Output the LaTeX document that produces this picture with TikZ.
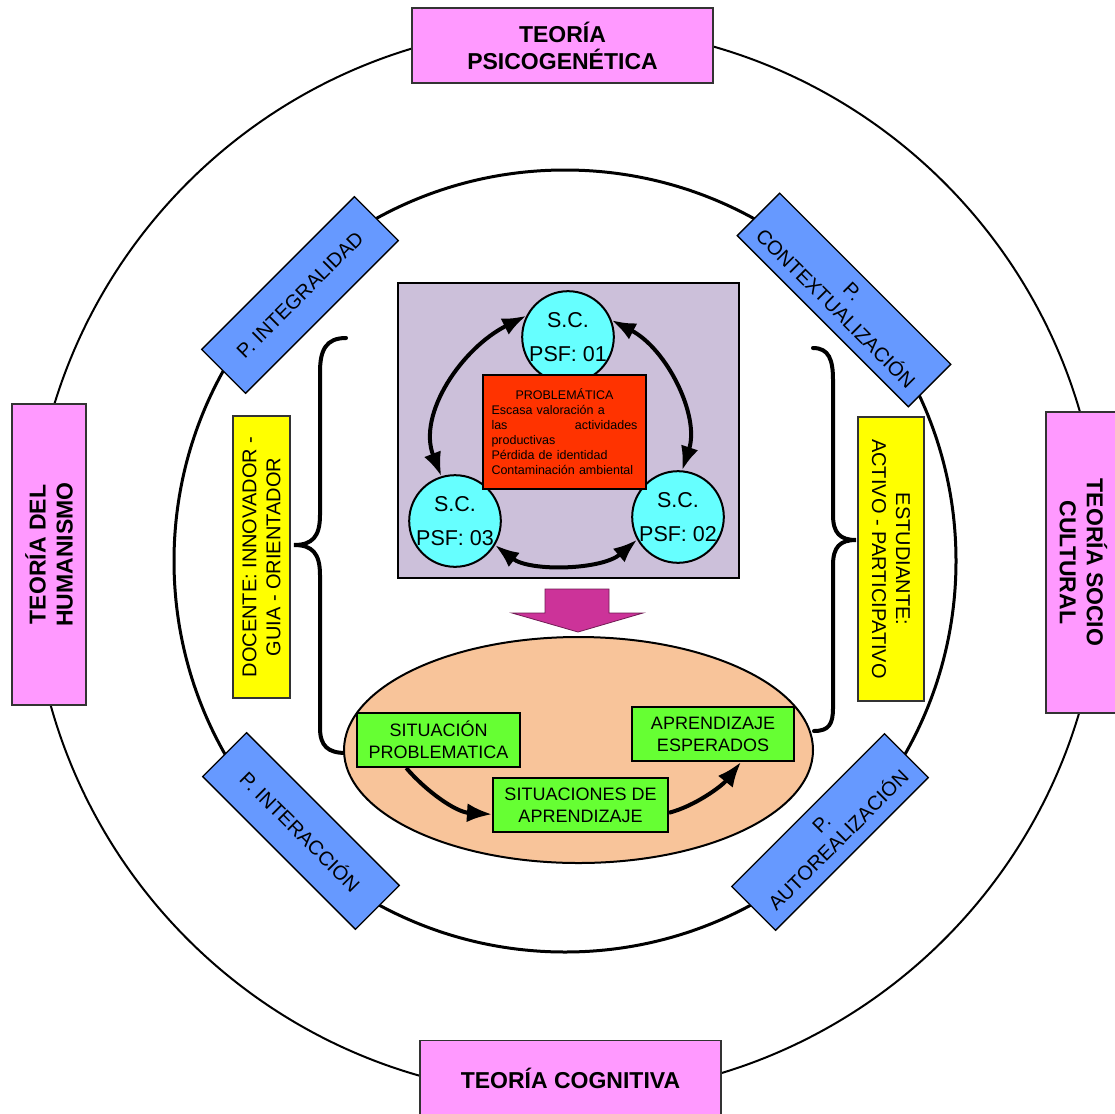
\documentclass[tikz,border=0pt]{standalone}
\usepackage{fontspec}
\setmainfont{Liberation Sans}
\usetikzlibrary{arrows.meta,shapes.geometric,calc}
\definecolor{pinkc}{RGB}{255,153,255}
\definecolor{bluec}{RGB}{102,153,255}
\definecolor{yellowc}{RGB}{255,255,0}
\definecolor{cyanc}{RGB}{102,255,255}
\definecolor{redc}{RGB}{255,51,0}
\definecolor{greenc}{RGB}{102,255,51}
\definecolor{peachc}{RGB}{248,196,154}
\definecolor{lavc}{RGB}{204,192,218}
\definecolor{magc}{RGB}{204,51,153}
\begin{document}
\begin{tikzpicture}[x=1pt,y=-1pt,
  theory/.style={draw=black!80,line width=1.2pt,fill=pinkc,minimum width=301pt,minimum height=75pt,inner sep=2pt,align=center,font=\bfseries\fontsize{23}{27}\selectfont},
  principle/.style={draw=black,line width=1.3pt,fill=bluec,minimum width=216pt,minimum height=62pt,inner sep=2pt,align=center,font=\fontsize{20}{24}\selectfont},
  rolebox/.style={draw=black!80,line width=1.3pt,fill=yellowc,inner sep=2pt,align=center,font=\fontsize{20}{24}\selectfont},
  psf/.style={circle,draw=black,line width=2pt,fill=cyanc,minimum size=89pt,inner sep=0pt,align=center,font=\fontsize{21.5}{34}\selectfont},
  greenbox/.style={draw=black,line width=2pt,fill=greenc,minimum height=54pt,inner sep=2pt,align=center,font=\fontsize{18}{22}\selectfont},
  cyc/.style={line width=4pt,{Latex[length=24pt,width=18pt]}-{Latex[length=24pt,width=18pt]}},
  flow/.style={line width=4pt,-{Latex[length=25pt,width=19pt]}},
  bracestyle/.style={line width=4pt,line cap=round}
]
\useasboundingbox (0,0) rectangle (1115,1113);
\fill[white] (0,0) rectangle (1115,1113);

% circles
\draw[line width=2pt] (566,561) circle[radius=535pt];
\draw[line width=3pt] (565,561) circle[radius=391pt];

% theory boxes
\node[theory] (tp) at (562.5,45.5) {TEORÍA\\PSICOGENÉTICA};
\node[theory] (tc) at (570.5,1078) {TEORÍA COGNITIVA};
\node[theory,rotate=90,minimum height=74pt] (th) at (49,554.5) {TEORÍA DEL\\HUMANISMO};
\node[theory,rotate=-90] (ts) at (1083.5,562.5) {TEORÍA SOCIO\\CULTURAL};

% principle boxes
\node[principle,rotate=45] (pi) at (300,295) {P. INTEGRALIDAD};
\node[principle,rotate=-45,minimum width=242pt,minimum height=60pt] (pc) at (844,300) {P.\\CONTEXTUALIZACIÓN};
\node[principle,rotate=-45] (pin) at (301,831) {P. INTERACCIÓN};
\node[principle,rotate=45] (pa) at (830,832) {P.\\AUTOREALIZACIÓN};

% role boxes
\node[rolebox,rotate=90,minimum width=282pt,minimum height=57pt] (doc) at (261.5,557) {DOCENTE: INNOVADOR -\\GUIA - ORIENTADOR};
\node[rolebox,rotate=-90,minimum width=284pt,minimum height=66pt] (est) at (891,559) {ESTUDIANTE:\\ACTIVO - PARTICIPATIVO};

% braces
\draw[bracestyle] (346,338) .. controls (326,338) and (320,350) .. (320,372) -- (320,515)
  .. controls (320,537) and (312,545) .. (294,545)
  .. controls (312,545) and (320,553) .. (320,575) -- (320,728)
  .. controls (320,746) and (328,753) .. (346,753);
\draw[bracestyle] (813,348) .. controls (829,348) and (833,360) .. (833,380) -- (833,515)
  .. controls (833,533) and (840,540) .. (856,540)
  .. controls (840,540) and (833,547) .. (833,565) -- (833,708)
  .. controls (833,724) and (829,731) .. (814,731);

% central panel
\node[draw=black,line width=1.5pt,fill=lavc,minimum width=341pt,minimum height=295pt,inner sep=0pt] (panel) at (568.5,430.5) {};
\node[psf] (c1) at (568,337) {S.C.\\PSF: 01};
\node[psf] (c3) at (455,521) {S.C.\\PSF: 03};
\node[psf] (c2) at (678,517) {S.C.\\PSF: 02};
\node[draw=black,line width=2pt,fill=redc,minimum width=163pt,minimum height=114pt,inner xsep=8.5pt,inner ysep=4pt,text width=146pt,align=left,font=\fontsize{12.5}{15}\selectfont] (prob) at (564.5,432)
  {\makebox[146pt][c]{PROBLEMÁTICA}\\Escasa valoración a\\las\hfill actividades\\productivas\\Pérdida de identidad\\Contaminación ambiental};
\draw[cyc] (c1.153) .. controls (462,348) and (417,414) .. (c3.107);
\draw[cyc] (c1.21) .. controls (667,349) and (700,416) .. (c2.85);
\draw[cyc] (c3.329) .. controls (530,572) and (602,570) .. (c2.209);

% block arrow
\filldraw[fill=magc,draw=magc!55!black,line width=0.8pt] (545,589) -- (609,589) -- (609,613) -- (643,613) -- (578,632) -- (512,613) -- (545,613) -- cycle;

% lower ellipse
\node[ellipse,draw=black,line width=2pt,fill=peachc,minimum width=469pt,minimum height=226pt,inner sep=0pt] (ell) at (578.5,750) {};
\node[greenbox,minimum width=163pt] (sp) at (438.5,740) {SITUACIÓN\\PROBLEMATICA};
\node[greenbox,minimum width=175pt] (sa) at (580.5,805) {SITUACIONES DE\\APRENDIZAJE};
\node[greenbox,minimum width=162pt] (ae) at (713,734) {APRENDIZAJE\\ESPERADOS};
\draw[flow] (sp.221) .. controls (425,790) and (455,812) .. (sa.186);
\draw[flow] (sa.355) .. controls (695,806) and (722,786) .. (ae.315);
\end{tikzpicture}
\end{document}
